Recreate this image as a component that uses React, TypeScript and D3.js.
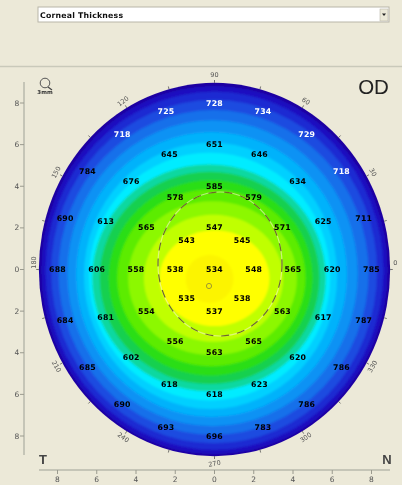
import React from "react";
import * as d3 from "d3";

const ring2 = [547, 545, 548, 538, 537, 535, 538, 543];
const ring4 = [585, 579, 571, 565, 563, 565, 563, 556, 554, 558, 565, 578];
const ring6 = [651, 646, 634, 625, 620, 617, 620, 623, 618, 618, 602, 681, 606, 613, 676, 645];
const ring8 = [728, 734, 729, 718, 711, 785, 787, 786, 786, 783, 696, 693, 690, 685, 684, 688, 690, 784, 718, 725];
const whiteRing8 = [0, 1, 2, 3, 18, 19];
const centerValue = 534;

const levelRx = [8.95, 8.82, 8.6, 8.3, 7.9, 7.4, 6.9, 6.45, 6.15, 5.95, 5.6, 5.2, 4.8, 4.3, 3.55, 2.8];
const levelRy = [8.97, 8.85, 8.6, 8.25, 7.8, 7.35, 6.85, 6.4, 5.95, 5.45, 5.1, 4.7, 4.25, 3.7, 3.05, 2.3];
const levelCx = [0, 0, 0, -0.02, -0.05, -0.1, -0.15, -0.2, -0.25, -0.28, -0.25, -0.2, -0.16, -0.1, -0.05, 0];
const levelCy = [0, -0.03, -0.06, -0.1, -0.14, -0.18, -0.24, -0.3, -0.34, -0.4, -0.4, -0.4, -0.4, -0.42, -0.42, -0.42];
const levelColors = ["#1a00a0", "#1c10c0", "#1e2cd2", "#1c4ce0", "#1670ea", "#0c92f4", "#04b2fb", "#00d0ff", "#00ecff", "#10d8a0", "#14d050", "#2ade14", "#5cec00", "#8cf800", "#c0ff00", "#ffff00"];
const coreLevel = { cx: -0.25, cy: -0.45, rx: 1.22, ry: 1.15, color: "#fcf400" };

const axisTicks = [-8, -6, -4, -2, 0, 2, 4, 6, 8];
const angleLabels = [0, 30, 60, 90, 120, 150, 180, 210, 240, 270, 300, 330];
const angleRotation = [0, 60, 32, 0, -38, -62, -90, 60, 35, -10, -35, -60];
const angleTicks = d3.range(0, 360, 15);

const x = d3.scaleLinear().domain([-8, 8]).range([57.5, 371.5]);
const y = d3.scaleLinear().domain([-8, 8]).range([436, 103]);

const BG = "#ece9d8";

function ringLabels(values: number[], radius: number) {
  return values.map((v, i) => {
    const a = (i / values.length) * 2 * Math.PI;
    return { v, i, px: x(radius * Math.sin(a)), py: y(radius * Math.cos(a)) };
  });
}

export default function App() {
  const cx = x(0);
  const cy = y(0);
  const polar = (deg: number, f: number) => {
    const a = (deg * Math.PI) / 180;
    return [x(8.95 * f * Math.cos(a)), y(8.97 * f * Math.sin(a))];
  };
  const labelFont = "'DejaVu Sans', sans-serif";
  const Val = ({ px, py, v, white }: any) => (
    <text x={px} y={py} textAnchor="middle" dominantBaseline="central" fontFamily={labelFont} fontWeight="bold" fontSize={7.8} letterSpacing={0.2} fill={white ? "#ffffff" : "#000000"}>{v}</text>
  );
  return (
    <svg width={402} height={485} style={{ position: "absolute", left: 0, top: 0 }}>
      <defs>
        <filter id="soft" x="0" y="0" width="402" height="485" filterUnits="userSpaceOnUse">
          <feGaussianBlur stdDeviation="0.6" />
        </filter>
        <filter id="softer" x="0" y="0" width="402" height="485" filterUnits="userSpaceOnUse">
          <feGaussianBlur stdDeviation="1.1" />
        </filter>
        <clipPath id="cornea">
          <ellipse cx={cx} cy={cy} rx={x(levelRx[0]) - cx} ry={cy - y(levelRy[0])} />
        </clipPath>
      </defs>
      <rect width={402} height={485} fill={BG} />
      <g filter="url(#soft)">
        <rect x={38} y={7} width={351} height={15} fill="#ffffff" stroke="#b8b6a8" strokeWidth={1} />
        <text x={40} y={15} dominantBaseline="central" fontFamily={labelFont} fontWeight="bold" fontSize={7.8} letterSpacing={0.2} fill="#111">Corneal Thickness</text>
        <rect x={380} y={9} width={8} height={12} fill="#ece9d8" stroke="#b8b6a8" strokeWidth={0.6} />
        <path d="M382,13.5 L386,13.5 L384,16 Z" fill="#222" />
        <line x1={0} x2={402} y1={66.5} y2={66.5} stroke="#c9c9ba" strokeWidth={1.6} />

        <g clipPath="url(#cornea)">
          <g filter="url(#softer)">
            <rect x={20} y={60} width={380} height={410} fill={levelColors[0]} />
            {levelRx.slice(1).map((r, k) => {
              const i = k + 1;
              return <ellipse key={i} cx={x(levelCx[i])} cy={y(levelCy[i])} rx={x(r) - cx} ry={cy - y(levelRy[i])} fill={levelColors[i]} />;
            })}
            <ellipse cx={x(coreLevel.cx)} cy={y(coreLevel.cy)} rx={x(coreLevel.rx) - cx} ry={cy - y(coreLevel.ry)} fill={coreLevel.color} />
          </g>
        </g>

        <ellipse cx={220} cy={264} rx={62} ry={72} fill="none" stroke="#f4f4c8" strokeWidth={1.2} opacity={0.6} />
        <ellipse cx={220} cy={264} rx={62} ry={72} fill="none" stroke="#6c6c28" strokeWidth={1.2} strokeDasharray="8 8" />
        <circle cx={209} cy={286} r={2.6} fill="none" stroke="#a09a30" strokeWidth={1} />

        {angleTicks.map((d) => {
          const [a, b] = polar(d, 1.0);
          const [c, e] = polar(d, 1.015);
          return <line key={d} x1={a} y1={b} x2={c} y2={e} stroke="#555" strokeWidth={0.8} />;
        })}
        {angleLabels.map((d, i) => {
          const [a, b] = polar(d, d === 0 ? 1.03 : d === 180 ? 1.03 : 1.04);
          const dy = d === 0 || d === 180 ? -7 : 0;
          return (
            <text key={d} transform={`translate(${a},${b + dy}) rotate(${angleRotation[i]})`} textAnchor="middle" dominantBaseline="central" fontFamily={labelFont} fontSize={6.5} fill="#555">{d}</text>
          );
        })}

        <line x1={24} x2={24} y1={82} y2={455} stroke="#b9b9ac" strokeWidth={1.5} />
        <line x1={39} x2={390} y1={470} y2={470} stroke="#b9b9ac" strokeWidth={1.5} />
        {axisTicks.map((t) => (
          <g key={t}>
            <line x1={20} x2={24} y1={y(t)} y2={y(t)} stroke="#9a9a8e" />
            <text x={17} y={y(t)} textAnchor="middle" dominantBaseline="central" fontFamily={labelFont} fontSize={7.5} fill="#555">{Math.abs(t)}</text>
            <line x1={x(t)} x2={x(t)} y1={470} y2={474} stroke="#9a9a8e" />
            <text x={x(t)} y={479.5} textAnchor="middle" dominantBaseline="central" fontFamily={labelFont} fontSize={7.5} fill="#555">{Math.abs(t)}</text>
          </g>
        ))}

        <circle cx={45} cy={83} r={4.8} fill="none" stroke="#555" strokeWidth={1} />
        <line x1={48} y1={87} x2={52} y2={90} stroke="#444" strokeWidth={1.2} />
        <text x={45} y={92} textAnchor="middle" dominantBaseline="central" fontFamily={labelFont} fontSize={5.5} fontWeight="bold" fill="#333">3mm</text>

        <text x={373.5} y={86} textAnchor="middle" dominantBaseline="central" fontFamily="'Liberation Sans', sans-serif" fontSize={20.5} fill="#222">OD</text>
        <text x={43} y={459} textAnchor="middle" dominantBaseline="central" fontFamily="'Liberation Sans', sans-serif" fontWeight="bold" fontSize={13} fill="#444">T</text>
        <text x={387} y={459} textAnchor="middle" dominantBaseline="central" fontFamily="'Liberation Sans', sans-serif" fontWeight="bold" fontSize={13} fill="#444">N</text>

        <Val px={cx} py={cy} v={centerValue} />
        {ringLabels(ring2, 2).map((d) => <Val key={"a" + d.i} {...d} />)}
        {ringLabels(ring4, 4).map((d) => <Val key={"b" + d.i} {...d} />)}
        {ringLabels(ring6, 6).map((d) => <Val key={"c" + d.i} {...d} />)}
        {ringLabels(ring8, 8).map((d) => <Val key={"d" + d.i} {...d} white={whiteRing8.includes(d.i)} />)}
      </g>
    </svg>
  );
}
